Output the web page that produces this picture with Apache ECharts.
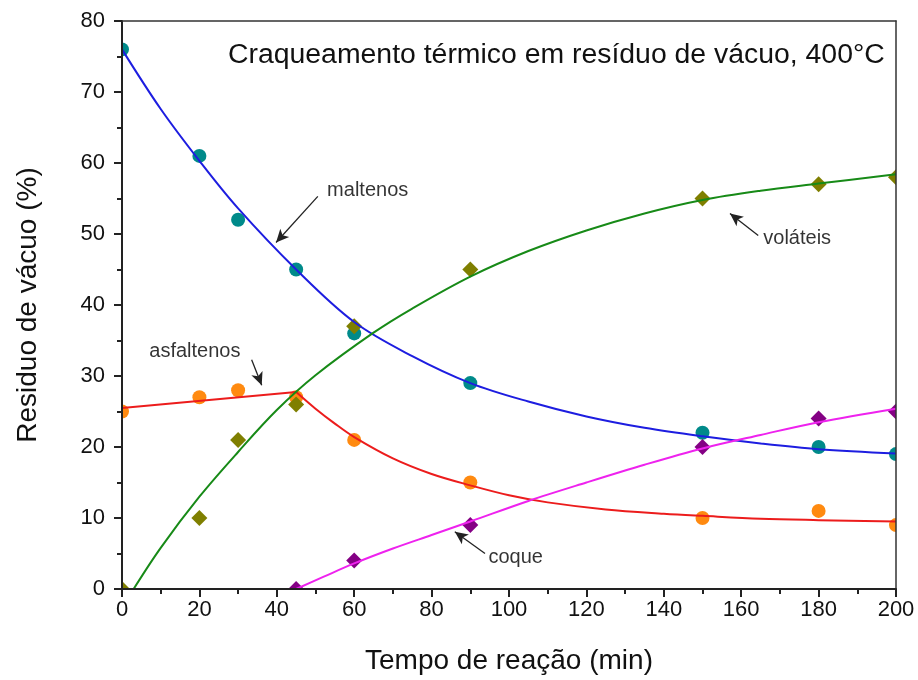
<!DOCTYPE html>
<html><head><meta charset="utf-8">
<script src="https://cdn.jsdelivr.net/npm/echarts@6/dist/echarts.min.js"></script>
<style>html,body{margin:0;padding:0;background:#fff}#c{width:918px;height:680px}</style>
</head><body><div id="c"></div>
<script>
// measured points
const timeMin = [0, 20, 30, 45, 60, 90, 150, 180, 200];
const maltenos = [76, 61, 52, 45, 36, 29, 22, 20, 19];
const asfaltenos = [25, 27, 28, 27, 21, 15, 10, 11, 9];
const volateis = [0, 10, 21, 26, 37, 45, 55, 57, 58];
const coqueTime = [45, 60, 90, 150, 180, 200];
const coque = [0, 4, 9, 20, 24, 25];

// fitted curves
const maltenosFitX = [0, 10, 20, 30, 45, 60, 75, 90, 105, 120, 135, 150, 165, 180, 200];
const maltenosFitY = [76, 67.6, 60.3, 53.6, 45, 37.6, 32.8, 29, 26.4, 24.3, 22.7, 21.5, 20.5, 19.7, 19.1];
const asfLinX = [0, 45];
const asfLinY = [25.5, 27.75];
const asfDecX = [45, 50, 55, 60, 70, 80, 90, 100, 110, 125, 140, 150, 165, 180, 200];
const asfDecY = [27.75, 25.4, 23.3, 21.4, 18.4, 16.2, 14.6, 13.2, 12.2, 11.2, 10.6, 10.3, 9.9, 9.7, 9.5];
const volFitX = [3, 10, 20, 30, 40, 50, 65, 75, 90, 105, 120, 135, 150, 165, 180, 200];
const volFitY = [0, 5.8, 13.0, 19.3, 25.2, 30.1, 36.1, 39.5, 44.0, 47.6, 50.5, 52.9, 54.8, 56.1, 57.1, 58.4];
const coqueFitX = [45, 52, 60, 70, 80, 90, 105, 120, 135, 150, 165, 180, 200];
const coqueFitY = [0, 1.7, 3.6, 5.7, 7.6, 9.5, 12.4, 15.0, 17.5, 19.8, 21.7, 23.5, 25.4];

// annotations (data coordinates)
const annoText = ['maltenos', 'voláteis', 'asfaltenos', 'coque'];
const annoTextPos = [[53.0, 56.1], [165.7, 49.3], [7.05, 33.4], [94.7, 4.45]];
const arrowFrom = [[50.6, 55.3], [164.4, 49.8], [33.5, 32.3], [93.8, 5.0]];
const arrowTo = [[39.8, 48.8], [157.1, 52.9], [36.1, 28.7], [86.0, 8.06]];

const titleText = 'Craqueamento térmico em resíduo de vácuo, 400°C';
const xName = 'Tempo de reação (min)';
const yName = 'Residuo de vácuo (%)';

const FONT = "'Liberation Sans', Arial, Helvetica, sans-serif";
const zip = (xs, ys) => xs.map((x, i) => [x, ys[i]]);

const chart = echarts.init(document.getElementById('c'), null, {renderer: 'canvas'});
const axisCol = '#222';
const opt = {
  animation: false,
  backgroundColor: '#fff',
  textStyle: {fontFamily: FONT},
  title: {
    text: titleText, left: 223, top: 36, z: 30,
    textStyle: {fontSize: 28.4, fontWeight: 'normal', color: '#111', fontFamily: FONT}
  },
  grid: {left: 122, right: 22, top: 21, bottom: 91},
  xAxis: [{
    type: 'value', min: 0, max: 200, interval: 20, z: 20,
    axisLine: {onZero: false, lineStyle: {color: axisCol, width: 2}},
    axisTick: {length: 8, lineStyle: {color: axisCol, width: 2}},
    minorTick: {show: true, splitNumber: 2, length: 5, lineStyle: {color: axisCol, width: 2}},
    splitLine: {show: false}, minorSplitLine: {show: false},
    axisLabel: {fontSize: 22, color: '#111', margin: 10, fontFamily: FONT},
    name: xName, nameLocation: 'middle', nameGap: 58,
    nameTextStyle: {fontSize: 28, color: '#111', fontFamily: FONT}
  }, {
    type: 'value', min: 0, max: 200, position: 'top', z: 20,
    axisLine: {show: true, onZero: false, lineStyle: {color: '#333', width: 1.5}},
    axisTick: {show: false}, axisLabel: {show: false}, splitLine: {show: false}
  }],
  yAxis: [{
    type: 'value', min: 0, max: 80, interval: 10, z: 20,
    axisLine: {onZero: false, lineStyle: {color: axisCol, width: 2}},
    axisTick: {length: 8, lineStyle: {color: axisCol, width: 2}},
    minorTick: {show: true, splitNumber: 2, length: 5, lineStyle: {color: axisCol, width: 2}},
    splitLine: {show: false}, minorSplitLine: {show: false},
    axisLabel: {fontSize: 22, color: '#111', margin: 17, fontFamily: FONT},
    name: yName, nameLocation: 'middle', nameGap: 80, nameRotate: 90,
    nameTextStyle: {fontSize: 28, color: '#111', fontFamily: FONT}
  }, {
    type: 'value', min: 0, max: 80, position: 'right', z: 20,
    axisLine: {show: true, onZero: false, lineStyle: {color: '#333', width: 1.5}},
    axisTick: {show: false}, axisLabel: {show: false}, splitLine: {show: false}
  }],
  series: []
};

// markers drawn as custom series, clipped to the plot frame
function pts(name, xs, ys, color, shape, half) {
  return {
    type: 'custom', name, data: zip(xs, ys), clip: true, z: 2, silent: true,
    encode: {x: 0, y: 1},
    renderItem: (params, api) => {
      const p = api.coord([api.value(0), api.value(1)]);
      const cs = params.coordSys;
      const clipPath = {type: 'rect', shape: {x: cs.x, y: cs.y, width: cs.width, height: cs.height}};
      if (shape === 'circle') {
        return {type: 'circle', shape: {cx: p[0], cy: p[1], r: half}, style: {fill: color}, clipPath};
      }
      return {type: 'polygon', shape: {points: [[p[0], p[1] - half], [p[0] + half, p[1]], [p[0], p[1] + half], [p[0] - half, p[1]]]},
        style: {fill: color}, clipPath};
    }
  };
}
function fit(xs, ys, color, smooth) {
  return {type: 'line', data: zip(xs, ys), smooth: smooth, showSymbol: false, symbol: 'none',
    lineStyle: {color, width: 2}, z: 3, silent: true, clip: true};
}
opt.series.push(
  pts('maltenos', timeMin, maltenos, '#008a8a', 'circle', 7),
  pts('asfaltenos', timeMin, asfaltenos, '#ff8a10', 'circle', 7),
  pts('volateis', timeMin, volateis, '#7f7f00', 'diamond', 8),
  pts('coque', coqueTime, coque, '#840084', 'diamond', 8),
  fit(maltenosFitX, maltenosFitY, '#1d1de0', 0.35),
  fit(asfLinX, asfLinY, '#ec1c1c', false),
  fit(asfDecX, asfDecY, '#ec1c1c', 0.35),
  fit(volFitX, volFitY, '#178a17', 0.35),
  fit(coqueFitX, coqueFitY, '#ee22ee', 0.35),
  {
    type: 'scatter', symbolSize: 0, z: 4, silent: true,
    data: annoTextPos.map((p, i) => [p[0], p[1], annoText[i]]),
    label: {show: true, position: 'right', distance: 0, fontSize: 20, color: '#000',
      fontFamily: FONT, formatter: p => p.data[2]},
    markLine: {
      silent: true, symbol: ['none', 'arrow'], symbolSize: [9, 13],
      label: {show: false},
      lineStyle: {color: '#222', width: 1.3, type: 'solid'},
      data: arrowFrom.map((f, i) => [{coord: f}, {coord: arrowTo[i]}])
    }
  }
);
chart.setOption(opt);
</script></body></html>
